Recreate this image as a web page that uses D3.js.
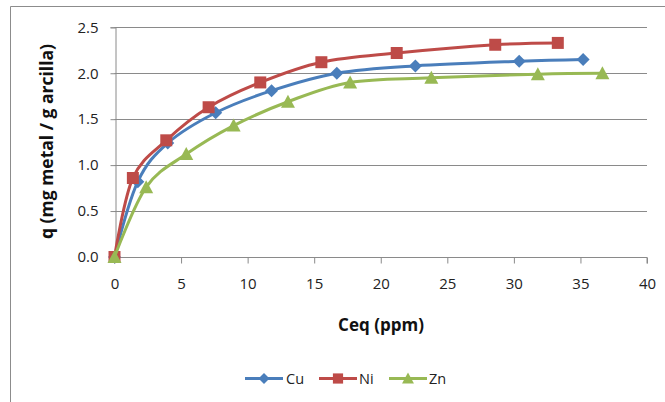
<!DOCTYPE html>
<html>
<head>
<meta charset="utf-8">
<script src="https://cdn.jsdelivr.net/npm/d3@7"></script>
<style>
  html, body { margin: 0; padding: 0; background: #fff; }
  svg { display: block; font-family: "Open Sans", "DejaVu Sans", sans-serif; }
</style>
</head>
<body>
<svg id="chart" width="665" height="402"></svg>
<script>
// ---- data ----
const seriesNames = ["Cu", "Ni", "Zn"];
const cuX = [0, 1.75, 4.0, 7.6, 11.8, 16.7, 22.6, 30.4, 35.2];
const cuY = [0, 0.82, 1.24, 1.57, 1.81, 2.00, 2.08, 2.13, 2.15];
const niX = [0, 1.38, 3.89, 7.07, 10.95, 15.54, 21.2, 28.6, 33.3];
const niY = [0, 0.86, 1.27, 1.63, 1.90, 2.12, 2.22, 2.31, 2.33];
const znX = [0, 2.38, 5.39, 8.95, 13.03, 17.7, 23.8, 31.8, 36.65];
const znY = [0, 0.76, 1.12, 1.43, 1.69, 1.90, 1.95, 1.99, 2.00];
const xTicks = [0, 5, 10, 15, 20, 25, 30, 35, 40];
const yTicks = [0.0, 0.5, 1.0, 1.5, 2.0, 2.5];
const xTitle = "Ceq (ppm)";
const yTitle = "q (mg metal / g arcilla)";

const colors = { Cu: "#4A7EBB", Ni: "#BE4B48", Zn: "#98B954" };
const series = [
  { name: "Cu", xs: cuX, ys: cuY, marker: "diamond" },
  { name: "Ni", xs: niX, ys: niY, marker: "square" },
  { name: "Zn", xs: znX, ys: znY, marker: "triangle" }
];

const svg = d3.select("#chart");
const W = 665, H = 402;
const pLeft = 114.5, pRight = 647, pTop = 27.3, pBottom = 257;

const x = d3.scaleLinear().domain([0, 40]).range([pLeft, pRight]);
const y = d3.scaleLinear().domain([0, 2.5]).range([pBottom, pTop]);

svg.append("rect").attr("width", W).attr("height", H).attr("fill", "#fff");

// chart border (only left and top visible)
svg.append("path")
  .attr("d", `M10.5,${H} L10.5,6.5 L${W},6.5`)
  .attr("fill", "none").attr("stroke", "#8c8c8c").attr("stroke-width", 1);

const grid = "#8a8a8a";

// horizontal gridlines
svg.append("g").selectAll("line").data(yTicks.filter(d => d > 0)).join("line")
  .attr("x1", pLeft).attr("x2", pRight)
  .attr("y1", d => Math.round(y(d)) + 0.5).attr("y2", d => Math.round(y(d)) + 0.5)
  .attr("stroke", grid).attr("stroke-width", 1);

// y axis via d3 axis
const yAxis = svg.append("g")
  .attr("transform", `translate(${Math.round(pLeft) + 0.5},0)`)
  .call(d3.axisLeft(y).tickValues(yTicks).tickFormat(d3.format(".1f")).tickSize(5).tickPadding(12));
yAxis.select(".domain").attr("stroke", grid);
yAxis.selectAll(".tick line").attr("stroke", grid);
yAxis.selectAll(".tick text")
  .attr("font-size", 15).attr("fill", "#222")
  .attr("font-family", "Open Sans, sans-serif");

// x axis
const xAxis = svg.append("g")
  .attr("transform", `translate(0,${Math.round(pBottom) + 0.5})`)
  .call(d3.axisBottom(x).tickValues(xTicks).tickFormat(d3.format("d")).tickSize(6).tickPadding(15));
xAxis.select(".domain").attr("stroke", grid).attr("d", `M${pLeft},6V0H${pRight}V6`);
xAxis.selectAll(".tick line").attr("stroke", grid);
xAxis.selectAll(".tick text")
  .attr("font-size", 15).attr("fill", "#222")
  .attr("font-family", "Open Sans, sans-serif");

// axis titles
svg.append("text")
  .attr("x", 381).attr("y", 331)
  .attr("text-anchor", "middle")
  .attr("font-size", 17).attr("font-weight", "bold").attr("fill", "#111")
  .text(xTitle);

svg.append("text")
  .attr("transform", "translate(53,141.5) rotate(-90)")
  .attr("text-anchor", "middle")
  .attr("font-size", 17.5).attr("font-weight", "bold").attr("fill", "#111")
  .text(yTitle);

// marker shapes
function markerPath(type) {
  if (type === "diamond") return "M0,-6.5L6.5,0L0,6.5L-6.5,0Z";
  if (type === "square") return "M-6,-6H6V6H-6Z";
  return "M0,-7L7,6L-7,6Z";
}

const line = d3.line()
  .x(d => x(d[0])).y(d => y(d[1]))
  .curve(d3.curveCardinal.tension(0));

series.forEach(s => {
  const pts = s.xs.map((v, i) => [v, s.ys[i]]);
  const g = svg.append("g");
  g.append("path")
    .attr("d", line(pts))
    .attr("fill", "none")
    .attr("stroke", colors[s.name])
    .attr("stroke-width", 3)
    .attr("stroke-linejoin", "round");
  g.selectAll("path.m").data(pts).join("path")
    .attr("class", "m")
    .attr("transform", d => `translate(${x(d[0])},${y(d[1])})`)
    .attr("d", markerPath(s.marker))
    .attr("fill", colors[s.name]);
});

// legend
const legendY = 378.5;
const legendItems = [
  { name: "Cu", x1: 245, x2: 283, tx: 286, marker: "diamond" },
  { name: "Ni", x1: 319, x2: 357, tx: 359, marker: "square" },
  { name: "Zn", x1: 389, x2: 427, tx: 429, marker: "triangle" }
];
const lg = svg.append("g");
legendItems.forEach(it => {
  lg.append("line")
    .attr("x1", it.x1).attr("x2", it.x2).attr("y1", legendY).attr("y2", legendY)
    .attr("stroke", colors[it.name]).attr("stroke-width", 3);
  lg.append("path")
    .attr("transform", `translate(${(it.x1 + it.x2) / 2},${legendY}) scale(0.85)`)
    .attr("d", markerPath(it.marker))
    .attr("fill", colors[it.name]);
  lg.append("text")
    .attr("x", it.tx).attr("y", legendY)
    .attr("dominant-baseline", "central")
    .attr("font-size", 14.5).attr("fill", "#222")
    .text(it.name);
});
</script>
</body>
</html>
